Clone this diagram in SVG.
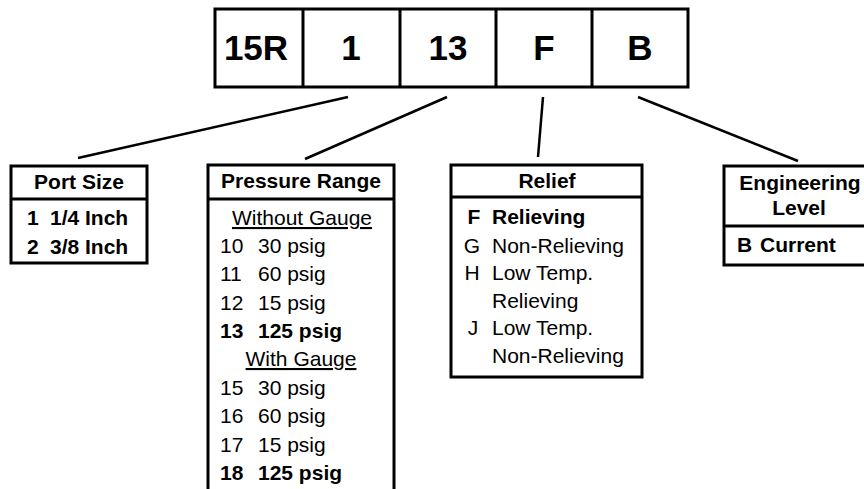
<svg xmlns="http://www.w3.org/2000/svg" width="864" height="489" viewBox="0 0 864 489">
<style>
.box{fill:#fff;stroke:#000;stroke-width:3}
.div{stroke:#000;stroke-width:3}
.con{stroke:#000;stroke-width:2.5;fill:none}
text{font-family:"Liberation Sans",Arial,Helvetica,sans-serif;fill:#000}
.big{font-size:35px;font-weight:bold;text-anchor:middle}
.h{font-size:21px;font-weight:bold;text-anchor:middle}
.t{font-size:21px}
.b{font-size:21px;font-weight:bold}
.u{text-decoration:underline;text-anchor:middle}
.m{text-anchor:middle}
</style>
<rect width="864" height="489" fill="#fff"/>
<g id="code">
<rect class="box" x="215" y="9" width="473" height="78"/>
<line class="div" x1="303" y1="9" x2="303" y2="87"/>
<line class="div" x1="400" y1="9" x2="400" y2="87"/>
<line class="div" x1="496" y1="9" x2="496" y2="87"/>
<line class="div" x1="592" y1="9" x2="592" y2="87"/>
<text class="big" x="256" y="60">15R</text>
<text class="big" x="351" y="60">1</text>
<text class="big" x="448" y="60">13</text>
<text class="big" x="544" y="60">F</text>
<text class="big" x="640" y="60">B</text>
</g>
<g id="connectors">
<line class="con" x1="348" y1="97" x2="78" y2="158"/>
<line class="con" x1="447" y1="97" x2="305" y2="159"/>
<line class="con" x1="543" y1="97" x2="538" y2="157"/>
<line class="con" x1="638" y1="97" x2="798" y2="161"/>
</g>
<g id="port-size">
<rect class="box" x="11" y="166" width="136" height="97"/>
<line class="div" x1="11" y1="199" x2="147" y2="199"/>
<text class="h" x="79" y="189">Port Size</text>
<text class="b" x="27" y="225">1</text>
<text class="b" x="50" y="225">1/4 Inch</text>
<text class="b" x="27" y="254">2</text>
<text class="b" x="50" y="254">3/8 Inch</text>
</g>
<g id="pressure-range">
<rect class="box" x="208" y="165" width="186" height="340"/>
<line class="div" x1="208" y1="199" x2="394" y2="199"/>
<text class="h" x="301" y="188">Pressure Range</text>
<text class="t u" x="302" y="225">Without Gauge</text>
<text class="t" x="220" y="253">10</text><text class="t" x="258" y="253">30 psig</text>
<text class="t" x="220" y="281">11</text><text class="t" x="258" y="281">60 psig</text>
<text class="t" x="220" y="310">12</text><text class="t" x="258" y="310">15 psig</text>
<text class="b" x="220" y="338">13</text><text class="b" x="258" y="338">125 psig</text>
<text class="t u" x="301" y="366">With Gauge</text>
<text class="t" x="220" y="395">15</text><text class="t" x="258" y="395">30 psig</text>
<text class="t" x="220" y="423">16</text><text class="t" x="258" y="423">60 psig</text>
<text class="t" x="220" y="452">17</text><text class="t" x="258" y="452">15 psig</text>
<text class="b" x="220" y="480">18</text><text class="b" x="258" y="480">125 psig</text>
</g>
<g id="relief">
<rect class="box" x="451" y="165" width="191" height="212"/>
<line class="div" x1="451" y1="197" x2="642" y2="197"/>
<text class="h" x="547" y="188">Relief</text>
<text class="b m" x="474" y="224">F</text><text class="b" x="492" y="224">Relieving</text>
<text class="t m" x="472" y="253">G</text><text class="t" x="492" y="253">Non-Relieving</text>
<text class="t m" x="472" y="280">H</text><text class="t" x="492" y="280">Low Temp.</text>
<text class="t" x="492" y="308">Relieving</text>
<text class="t m" x="473" y="335">J</text><text class="t" x="492" y="335">Low Temp.</text>
<text class="t" x="492" y="363">Non-Relieving</text>
</g>
<g id="engineering-level">
<rect class="box" x="724" y="166" width="160" height="99"/>
<line class="div" x1="724" y1="226" x2="884" y2="226"/>
<text class="h" x="800" y="190">Engineering</text>
<text class="h" x="799" y="215">Level</text>
<text class="b" x="737" y="252">B</text>
<text class="b" x="760" y="252">Current</text>
</g>
</svg>
